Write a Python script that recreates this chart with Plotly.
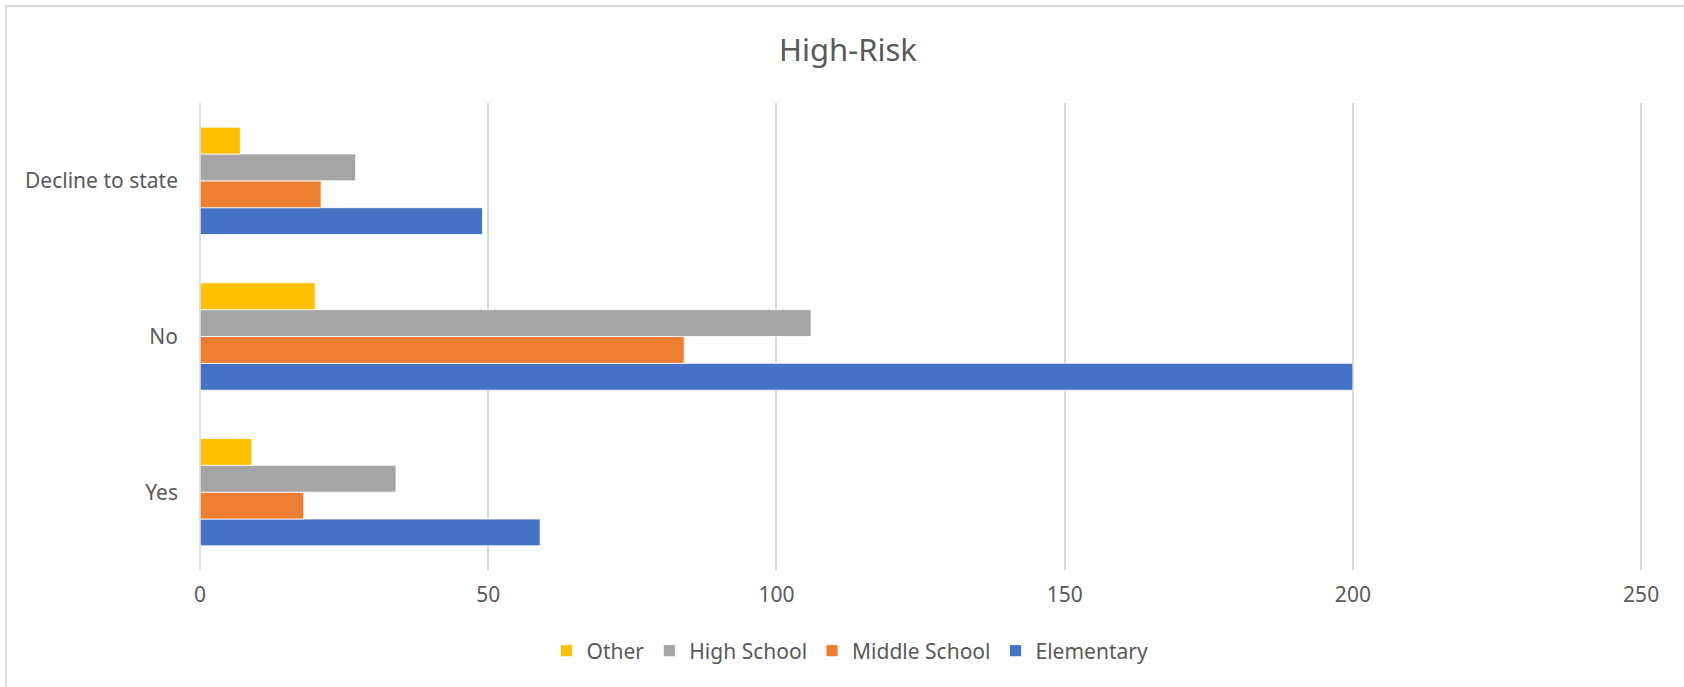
import plotly.graph_objects as go

categories = ["Yes", "No", "Decline to state"]
elementary = [59, 200, 49]
middle_school = [18, 84, 21]
high_school = [34, 106, 27]
other = [9, 20, 7]
x_ticks = [0, 50, 100, 150, 200, 250]

W, H = 1684, 687
L, T, B = 200, 103, 570
X_MAX = 250.5
R = L + (1641 - L) * X_MAX / 250
pw, ph = R - L, B - T

fig = go.Figure()
series = [
    ("Elementary", elementary, "#4472C4"),
    ("Middle School", middle_school, "#ED7D31"),
    ("High School", high_school, "#A5A5A5"),
    ("Other", other, "#FFC000"),
]
for name, vals, col in series:
    fig.add_trace(go.Bar(
        y=categories, x=vals, name=name, orientation="h",
        marker=dict(color=col, line=dict(color="white", width=0.8)),
    ))

font = "'Noto Sans', 'Open Sans', sans-serif"
fig.update_layout(
    width=W, height=H,
    margin=dict(l=L, r=W - R, t=T, b=H - B),
    paper_bgcolor="white", plot_bgcolor="white",
    barmode="group", bargap=0.31, bargroupgap=0,
    font=dict(family=font, color="#595959", size=21),
    title=dict(text="High-Risk", x=848 / W, xanchor="center", xref="container",
               y=1 - 50.5 / H, yanchor="middle", yref="container",
               font=dict(size=31, color="#595959", family=font)),
    xaxis=dict(range=[0, X_MAX], tickvals=x_ticks, showgrid=True,
               gridcolor="#D9D9D9", gridwidth=1.5, zeroline=False,
               showline=False, ticklabelstandoff=10,
               tickfont=dict(size=21, color="#595959")),
    yaxis=dict(categoryorder="array", categoryarray=categories,
               showgrid=False, zeroline=False, showline=False,
               ticklabelstandoff=21,
               tickfont=dict(size=21, color="#595959")),
    legend=dict(orientation="h", traceorder="reversed",
                xref="container", yref="container",
                x=850 / W, xanchor="center",
                y=1 - 651 / H, yanchor="middle",
                font=dict(size=21, color="#595959"),
                itemwidth=30),
    showlegend=True,
)
fig.add_shape(type="line", xref="paper", yref="paper",
              x0=0, x1=0, y0=0, y1=1,
              line=dict(color="#D9D9D9", width=1.5))
fig.add_shape(type="rect", xref="paper", yref="paper",
              x0=(6 - L) / pw, x1=(W + 20 - L) / pw,
              y0=(B - (H + 20)) / ph, y1=(B - 6) / ph,
              line=dict(color="#D9D9D9", width=2), layer="below")
fig.write_html("out.html", config={"displayModeBar": False},
               post_script="document.body.style.margin='0';document.body.style.overflow='hidden';")
